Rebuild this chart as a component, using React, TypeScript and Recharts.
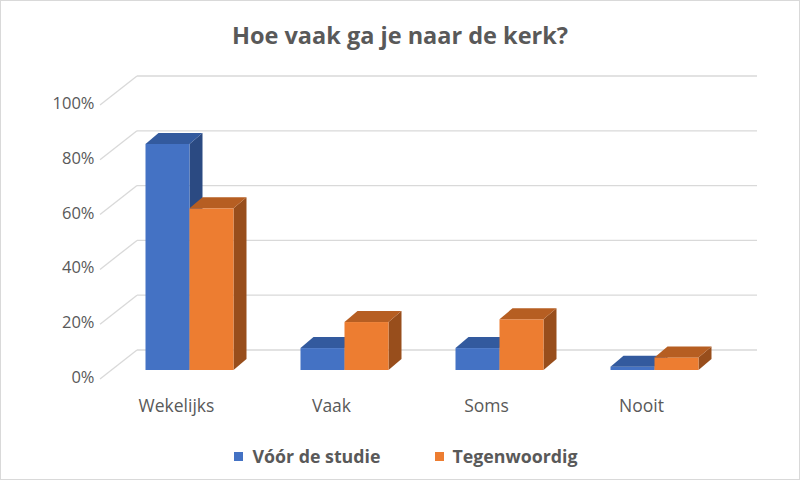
import React from 'react';
import { BarChart, Bar, XAxis, YAxis, CartesianGrid } from 'recharts';

const categories = ['Wekelijks', 'Vaak', 'Soms', 'Nooit'];
const voorDeStudie = [82.5, 8, 8, 1.2];
const tegenwoordig = [59, 17.5, 18.5, 4.6];
const yTicks = [0, 20, 40, 60, 80, 100];

const data = categories.map((name, i) => ({ name, voor: voorDeStudie[i], nu: tegenwoordig[i] }));

const FONT = '"Open Sans", Lato, sans-serif';
const TEXT = '#595959';
const GRID = '#d9d9d9';

// oblique offsets relative to the bar front plane
const BACK = { dx: 25.5, dy: -20 };
const FRONT = { dx: -11.5, dy: 9 };
const DEPTH = { dx: 13, dy: -11 };

const box = (top: string, side: string) => (props: any) => {
  const { x, y, width, height, fill } = props;
  if (width == null || height == null) return null;
  const { dx, dy } = DEPTH;
  return (
    <g>
      <polygon points={`${x + width},${y} ${x + width + dx},${y + dy} ${x + width + dx},${y + height + dy} ${x + width},${y + height}`} fill={side} />
      <rect x={x} y={y} width={width} height={height} fill={fill} />
      <polygon points={`${x},${y} ${x + dx},${y + dy} ${x + width + dx},${y + dy} ${x + width},${y}`} fill={top} />
    </g>
  );
};

const gridLine = (props: any) => {
  const { x1, x2, y1, key } = props;
  const bx1 = x1 + BACK.dx;
  const bx2 = x2 + BACK.dx;
  const by = y1 + BACK.dy;
  return (
    <g key={key}>
      <line x1={bx1} y1={by} x2={bx2} y2={by} stroke={GRID} strokeWidth={1.3} />
      <line x1={bx1} y1={by} x2={x1 + FRONT.dx} y2={y1 + FRONT.dy} stroke={GRID} strokeWidth={1.3} />
    </g>
  );
};

const YTick = (props: any) => {
  const { x, y, payload } = props;
  return (
    <text x={x - 9} y={y + 6.5} textAnchor="end" dominantBaseline="central" fontFamily={FONT} fontSize={16.5} fill={TEXT}>
      {payload.value}%
    </text>
  );
};

const XTick = (props: any) => {
  const { x, y, payload } = props;
  return (
    <text x={x - 12.5} y={y + 27} textAnchor="middle" dominantBaseline="central" fontFamily={FONT} fontSize={17.5} fill={TEXT}>
      {payload.value}
    </text>
  );
};

export default function App() {
  return (
    <div style={{ position: 'absolute', left: 0, top: 0, width: 800, height: 480, background: '#fff', boxSizing: 'border-box', border: '1px solid #d9d9d9', fontFamily: FONT }}>
      <div style={{ position: 'absolute', left: 0, top: 16, width: 798, textAlign: 'center', fontSize: 23.5, lineHeight: '36px', fontWeight: 700, color: TEXT }}>
        Hoe vaak ga je naar de kerk?
      </div>
      <div style={{ position: 'absolute', left: -1, top: -1 }}>
        <BarChart width={800} height={480} data={data} margin={{ top: 96, right: 68.5, bottom: 80, left: 0 }} barSize={44} barGap={0}>
          <CartesianGrid vertical={false} horizontal={gridLine} />
          <XAxis dataKey="name" height={30} axisLine={false} tickLine={false} tick={<XTick />} interval={0} />
          <YAxis width={111.5} domain={[0, 100]} ticks={yTicks} axisLine={false} tickLine={false} tick={<YTick />} />
          <Bar dataKey="voor" fill="#4472c4" shape={box('#335a9e', '#2b4a82')} isAnimationActive={false} />
          <Bar dataKey="nu" fill="#ed7d31" shape={box('#b65e22', '#984e1c')} isAnimationActive={false} />
        </BarChart>
      </div>
      <div style={{ position: 'absolute', top: 443, left: 6, width: 798, lineHeight: '24px', display: 'flex', justifyContent: 'center', gap: 54, fontSize: 17.8, fontWeight: 700, color: TEXT }}>
        <div style={{ display: 'flex', alignItems: 'center', gap: 9 }}>
          <span style={{ width: 9, height: 9, background: '#4472c4', display: 'inline-block' }} />
          Vóór de studie
        </div>
        <div style={{ display: 'flex', alignItems: 'center', gap: 9 }}>
          <span style={{ width: 9, height: 9, background: '#ed7d31', display: 'inline-block' }} />
          Tegenwoordig
        </div>
      </div>
    </div>
  );
}
